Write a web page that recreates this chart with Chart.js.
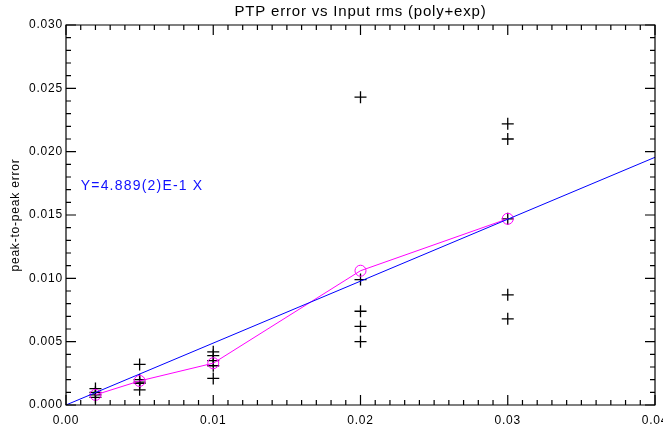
<!DOCTYPE html>
<html>
<head>
<meta charset="utf-8">
<script src="https://cdn.jsdelivr.net/npm/chart.js@4/dist/chart.umd.min.js"></script>
<style>
  html, body { margin: 0; padding: 0; background: #fff; }
  #wrap { width: 663px; height: 432px; }
</style>
</head>
<body>
<div id="wrap"><canvas id="ptpChart" width="663" height="432"></canvas></div>
<script>
// input rms levels
const rmsLevels = [0.002, 0.005, 0.01, 0.02, 0.03];
// peak-to-peak error of each run, one list per rms level
const errAt002 = [0.0013, 0.0010, 0.0008, 0.0006];
const errAt005 = [0.0032, 0.0020, 0.0018, 0.0017, 0.0012];
const errAt010 = [0.0042, 0.0039, 0.0035, 0.0031, 0.0021];
const errAt020 = [0.0243, 0.0099, 0.0074, 0.0062, 0.0050];
const errAt030 = [0.0222, 0.0210, 0.0147, 0.0087, 0.0068];
// mean error at each level (magenta curve)
const meanErr = [0.0008, 0.0019, 0.0033, 0.0106, 0.0147];
// linear fit through origin
const fitSlope = 0.4889;
const fitLabel = 'Y=4.889(2)E-1 X';
const chartTitle = 'PTP error vs Input rms (poly+exp)';

const xTicks = [0, 0.01, 0.02, 0.03, 0.04];
const yTicks = [0, 0.005, 0.010, 0.015, 0.020, 0.025, 0.030];
// minor tick step on both axes
const minorStep = 0.001;

const FONT = 'Liberation Sans';

const runGroups = [errAt002, errAt005, errAt010, errAt020, errAt030];
const runPoints = [];
runGroups.forEach((g, i) => g.forEach(v => runPoints.push({ x: rmsLevels[i], y: v })));
const meanPoints = rmsLevels.map((x, i) => ({ x: x, y: meanErr[i] }));
const fitPoints = [{ x: xTicks[0], y: 0 }, { x: xTicks[xTicks.length - 1], y: fitSlope * xTicks[xTicks.length - 1] }];

// IDL style frame: box with inward ticks on all four sides, title over the plot, fit label
const idlFrame = {
    id: 'idlFrame',
    beforeDraw(chart) {
        // IDL text is spaced out a bit more than Helvetica
        chart.ctx.letterSpacing = '0.8px';
    },
    afterDraw(chart) {
        const c = chart.ctx;
        const a = chart.chartArea;
        const xs = chart.scales.x, ys = chart.scales.y;
        c.save();
        c.strokeStyle = '#000';
        c.lineWidth = 1.2;
        c.beginPath();
        c.moveTo(a.left, a.top);
        c.lineTo(a.right, a.top);
        c.lineTo(a.right, a.bottom);
        c.lineTo(a.left, a.bottom);
        c.closePath();
        c.stroke();

        const nx = Math.round((xs.max - xs.min) / minorStep);
        const ny = Math.round((ys.max - ys.min) / minorStep);
        c.beginPath();
        for (let i = 0; i <= nx; i++) {
            const v = xs.min + i * minorStep;
            const px = xs.getPixelForValue(v);
            const len = i % 10 === 0 ? 10 : 5;
            c.moveTo(px, a.bottom);
            c.lineTo(px, a.bottom - len);
            c.moveTo(px, a.top);
            c.lineTo(px, a.top + len);
        }
        for (let j = 0; j <= ny; j++) {
            const v = ys.min + j * minorStep;
            const py = ys.getPixelForValue(v);
            const len = j % 5 === 0 ? 10 : 5;
            c.moveTo(a.left, py);
            c.lineTo(a.left + len, py);
            c.moveTo(a.right, py);
            c.lineTo(a.right - len, py);
        }
        c.stroke();

        // title, centred over the plot box like IDL does
        c.fillStyle = '#000';
        c.font = '15px "' + FONT + '"';
        c.letterSpacing = '0.8px';
        c.textAlign = 'center';
        c.textBaseline = 'middle';
        c.fillText(chartTitle, (a.left + a.right) / 2, 12);

        c.fillStyle = '#1010ff';
        c.font = '14px "' + FONT + '"';
        c.letterSpacing = '1.2px';
        c.textAlign = 'left';
        c.fillText(fitLabel, xs.getPixelForValue(0.001), ys.getPixelForValue(0.0173));
        c.restore();
    }
};

const ctx = document.getElementById('ptpChart').getContext('2d');
const ptpChart = new Chart(ctx, {
    type: 'scatter',
    data: {
        datasets: [{
            label: 'fit',
            type: 'line',
            data: fitPoints,
            borderColor: '#0000ff',
            borderWidth: 1,
            pointRadius: 0,
            fill: false
        }, {
            label: 'mean',
            type: 'line',
            data: meanPoints,
            borderColor: '#ff00ff',
            borderWidth: 1,
            pointStyle: 'circle',
            pointRadius: 5.5,
            pointBorderWidth: 1,
            pointBorderColor: '#ff00ff',
            pointBackgroundColor: 'rgba(0,0,0,0)',
            fill: false
        }, {
            label: 'runs',
            data: runPoints,
            pointStyle: 'cross',
            pointRadius: 6,
            pointBorderWidth: 1.3,
            borderColor: '#000',
            backgroundColor: '#000'
        }]
    },
    options: {
        responsive: false,
        animation: false,
        layout: { padding: { left: 0, right: 8, top: 25, bottom: 0 } },
        plugins: {
            legend: { display: false },
            tooltip: { enabled: false },
            title: { display: false }
        },
        scales: {
            x: {
                type: 'linear',
                min: 0,
                max: 0.04,
                grid: { display: false, drawTicks: false },
                border: { display: false },
                afterBuildTicks: s => { s.ticks = xTicks.map(v => ({ value: v })); },
                afterFit: s => { s.height = 27; s.paddingLeft = 0; s.paddingRight = 0; },
                ticks: {
                    color: '#000',
                    padding: 8,
                    maxRotation: 0,
                    autoSkip: false,
                    font: { family: FONT, size: 12 },
                    callback: v => v.toFixed(2)
                }
            },
            y: {
                type: 'linear',
                min: 0,
                max: 0.03,
                grid: { display: false, drawTicks: false },
                border: { display: false },
                afterBuildTicks: s => { s.ticks = yTicks.map(v => ({ value: v })); },
                afterFit: s => { s.width = 66; s.paddingTop = 0; s.paddingBottom = 0; },
                title: {
                    display: true,
                    text: 'peak-to-peak error',
                    color: '#000',
                    font: { family: FONT, size: 12 },
                    padding: { top: 8, bottom: 0 }
                },
                ticks: {
                    color: '#000',
                    padding: 3,
                    autoSkip: false,
                    font: { family: FONT, size: 12 },
                    callback: v => v.toFixed(3)
                }
            }
        }
    },
    plugins: [idlFrame]
});
</script>
</body>
</html>
